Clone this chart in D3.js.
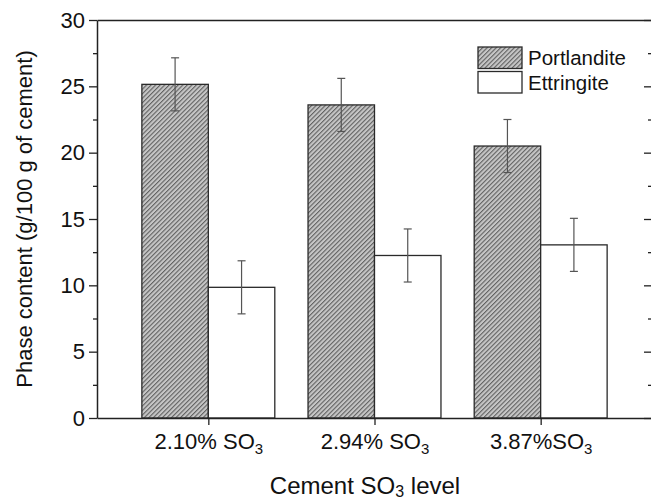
<!DOCTYPE html>
<html>
<head>
<meta charset="utf-8">
<script src="https://cdn.jsdelivr.net/npm/d3@7"></script>
<style>
  body { margin: 0; background: #fff; }
  svg text { font-family: "Liberation Sans", Arial, sans-serif; fill: #111; }
</style>
</head>
<body>
<svg id="chart" width="651" height="500"></svg>
<script>
// cement SO3 levels and measured phase contents (g/100 g of cement)
const levels = ["2.10% SO3", "2.94% SO3", "3.87%SO3"];
const portlandite = [25.15, 23.6, 20.5];
const portlanditeErr = [2.0, 2.0, 2.0];
const ettringite = [9.85, 12.25, 13.05];
const ettringiteErr = [2.0, 2.0, 2.0];
const yTicks = [0, 5, 10, 15, 20, 25, 30];
const yMinor = [2.5, 7.5, 12.5, 17.5, 22.5, 27.5];

const series = [
    {name: "Portlandite", values: portlandite, err: portlanditeErr, fill: "url(#hatch)", offset: -1},
    {name: "Ettringite", values: ettringite, err: ettringiteErr, fill: "#fff", offset: 0}
];

const svg = d3.select("#chart");
const dim = {l: 97, r: 652, t: 20, b: 418};
const barW = 0.4;

const x = d3.scaleLinear().domain([0.33, 3.67]).range([dim.l, dim.r]);
const y = d3.scaleLinear().domain([0, 30]).range([dim.b, dim.t]);

// diagonal hatch for portlandite
const pat = svg.append("defs").append("pattern")
    .attr("id", "hatch")
    .attr("patternUnits", "userSpaceOnUse")
    .attr("width", 3.2).attr("height", 3.2)
    .attr("patternTransform", "rotate(45)");
pat.append("rect").attr("width", 3.2).attr("height", 3.2).attr("fill", "#c6c6c6");
pat.append("line")
    .attr("x1", 0.6).attr("y1", 0).attr("x2", 0.6).attr("y2", 3.2)
    .attr("stroke", "#4a4a4a").attr("stroke-width", 0.9);

// bars
series.forEach(s => {
    const g = svg.append("g").attr("class", "bars");
    g.selectAll("rect").data(s.values).enter().append("rect")
        .attr("x", (d, i) => x(i + 1 + s.offset * barW))
        .attr("y", d => y(d))
        .attr("width", x(barW) - x(0))
        .attr("height", d => y(0) - y(d))
        .attr("fill", s.fill)
        .attr("stroke", "#2a2a2a")
        .attr("stroke-width", 1.3);
});

// error bars
series.forEach(s => {
    const g = svg.append("g").attr("class", "errors")
        .attr("stroke", "#555").attr("stroke-width", 1.2);
    s.values.forEach((v, i) => {
        const cx = x(i + 1 + s.offset * barW + barW / 2);
        const lo = y(v - s.err[i]), hi = y(v + s.err[i]);
        g.append("line").attr("x1", cx).attr("x2", cx).attr("y1", lo).attr("y2", hi);
        g.append("line").attr("x1", cx - 4).attr("x2", cx + 4).attr("y1", lo).attr("y2", lo);
        g.append("line").attr("x1", cx - 4).attr("x2", cx + 4).attr("y1", hi).attr("y2", hi);
    });
});

// axes
function styleAxis(g) {
    g.select(".domain").attr("stroke", "#222").attr("stroke-width", 1.5);
    g.selectAll(".tick line").attr("stroke", "#222").attr("stroke-width", 1.3);
    g.selectAll(".tick text").attr("font-size", 22).attr("fill", "#111")
        .attr("font-family", "Liberation Sans, Arial, sans-serif");
}

svg.append("g").attr("transform", `translate(${dim.l},0)`)
    .call(d3.axisLeft(y).tickValues(yTicks).tickSize(8).tickSizeOuter(0).tickPadding(4))
    .call(styleAxis);
svg.append("g").attr("transform", `translate(${dim.l},0)`)
    .call(d3.axisLeft(y).tickValues(yMinor).tickSize(4).tickFormat(""))
    .call(g => g.select(".domain").remove())
    .call(styleAxis);

// right axis, ticks pointing in
svg.append("g").attr("transform", `translate(${dim.r},0)`)
    .call(d3.axisLeft(y).tickValues(yTicks).tickSize(8).tickSizeOuter(0).tickFormat(""))
    .call(styleAxis);
svg.append("g").attr("transform", `translate(${dim.r},0)`)
    .call(d3.axisLeft(y).tickValues(yMinor).tickSize(4).tickFormat(""))
    .call(g => g.select(".domain").remove())
    .call(styleAxis);

// top border
svg.append("g").attr("transform", `translate(0,${dim.t})`)
    .call(d3.axisTop(x).tickValues([]).tickSizeOuter(0))
    .call(styleAxis);

// bottom axis with subscripted labels
const xAxis = svg.append("g").attr("transform", `translate(0,${dim.b})`)
    .call(d3.axisBottom(x).tickValues(levels.map((d, i) => i + 1)).tickSize(7).tickSizeOuter(0).tickPadding(8))
    .call(styleAxis);
xAxis.selectAll(".tick text").each(function(d) {
    const label = levels[d - 1];
    const t = d3.select(this).text(null);
    t.append("tspan").text(label.slice(0, -1));
    t.append("tspan").text(label.slice(-1)).attr("font-size", 15).attr("dy", 5);
});

// axis titles
svg.append("text")
    .attr("transform", `translate(32,${(dim.t + dim.b) / 2}) rotate(-90)`)
    .attr("text-anchor", "middle")
    .attr("font-size", 22)
    .text("Phase content (g/100 g of cement)");

const xt = svg.append("text")
    .attr("x", 365).attr("y", 494)
    .attr("text-anchor", "middle")
    .attr("font-size", 24);
xt.append("tspan").text("Cement SO");
xt.append("tspan").text("3").attr("font-size", 16).attr("dy", 3);
xt.append("tspan").text(" level").attr("dy", -3);

// legend
const legend = svg.append("g").attr("transform", "translate(478,47)");
series.forEach((s, i) => {
    const row = legend.append("g").attr("transform", `translate(0,${i * 24.5})`);
    row.append("rect").attr("width", 44).attr("height", 21.5)
        .attr("fill", s.fill).attr("stroke", "#2a2a2a").attr("stroke-width", 1.3);
    row.append("text").attr("x", 50).attr("y", 18).attr("font-size", 20.5).text(s.name);
});
</script>
</body>
</html>
